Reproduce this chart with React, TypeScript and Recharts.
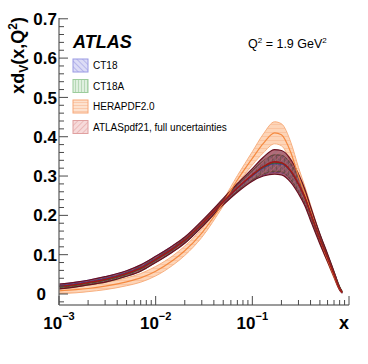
import React from "react"
import { Area, ComposedChart, Line, XAxis, YAxis } from "recharts"

const X = [0.001, 0.0015, 0.002, 0.003, 0.005, 0.007, 0.01, 0.015, 0.02, 0.03, 0.05, 0.07, 0.1, 0.13, 0.17, 0.2, 0.25, 0.3, 0.35, 0.4, 0.5, 0.6, 0.7, 0.8, 0.85]

const ATLAS_MID = [0.019, 0.024, 0.029, 0.037, 0.052, 0.066, 0.088, 0.115, 0.137, 0.178, 0.235, 0.27, 0.303, 0.324, 0.336, 0.334, 0.313, 0.28, 0.245, 0.205, 0.14, 0.092, 0.05, 0.014, 0.004]
const ATLAS_ERR = [0.006, 0.006, 0.006, 0.007, 0.007, 0.008, 0.008, 0.008, 0.008, 0.008, 0.008, 0.011, 0.016, 0.024, 0.031, 0.031, 0.029, 0.025, 0.021, 0.018, 0.013, 0.01, 0.007, 0.004, 0.002]

const HERA_MID = [0.008, 0.011, 0.014, 0.02, 0.031, 0.041, 0.058, 0.085, 0.11, 0.155, 0.232, 0.29, 0.345, 0.383, 0.41, 0.405, 0.36, 0.3, 0.255, 0.212, 0.14, 0.088, 0.046, 0.013, 0.004]
const HERA_ERR = [0.007, 0.008, 0.008, 0.009, 0.01, 0.011, 0.012, 0.012, 0.012, 0.011, 0.008, 0.011, 0.017, 0.024, 0.028, 0.028, 0.026, 0.022, 0.018, 0.015, 0.011, 0.008, 0.006, 0.004, 0.002]

const CT18_MID = [0.021, 0.026, 0.031, 0.039, 0.054, 0.068, 0.09, 0.117, 0.138, 0.178, 0.233, 0.268, 0.3, 0.32, 0.331, 0.33, 0.31, 0.278, 0.244, 0.205, 0.141, 0.093, 0.051, 0.015, 0.004]
const CT18_ERR = [0.004, 0.004, 0.004, 0.005, 0.005, 0.006, 0.006, 0.006, 0.006, 0.006, 0.006, 0.008, 0.012, 0.018, 0.022, 0.022, 0.02, 0.018, 0.015, 0.013, 0.01, 0.007, 0.005, 0.003, 0.002]

const CT18A_MID = [0.017, 0.022, 0.027, 0.035, 0.05, 0.064, 0.086, 0.113, 0.135, 0.176, 0.234, 0.27, 0.302, 0.322, 0.333, 0.332, 0.311, 0.279, 0.246, 0.206, 0.142, 0.094, 0.052, 0.016, 0.005]
const CT18A_ERR = [0.004, 0.004, 0.004, 0.005, 0.005, 0.006, 0.006, 0.006, 0.006, 0.006, 0.006, 0.008, 0.012, 0.017, 0.021, 0.021, 0.02, 0.018, 0.015, 0.013, 0.01, 0.007, 0.005, 0.003, 0.002]

const X_TICKS = [
  0.001, 0.002, 0.003, 0.004, 0.005, 0.006, 0.007, 0.008, 0.009,
  0.01, 0.02, 0.03, 0.04, 0.05, 0.06, 0.07, 0.08, 0.09,
  0.1, 0.2, 0.3, 0.4, 0.5, 0.6, 0.7, 0.8, 0.9, 1,
]
const X_MAJOR = [0.001, 0.01, 0.1]
const X_EXP = ["−3", "−2", "−1"]

const Y_TICKS = [
  -0.02, 0, 0.02, 0.04, 0.06, 0.08, 0.1, 0.12, 0.14, 0.16, 0.18, 0.2, 0.22, 0.24, 0.26, 0.28,
  0.3, 0.32, 0.34, 0.36, 0.38, 0.4, 0.42, 0.44, 0.46, 0.48, 0.5, 0.52, 0.54, 0.56, 0.58,
  0.6, 0.62, 0.64, 0.66, 0.68, 0.7,
]
const Y_MAJOR = [0, 0.1, 0.2, 0.3, 0.4, 0.5, 0.6, 0.7]
const Y_LABELS = ["0", "0.1", "0.2", "0.3", "0.4", "0.5", "0.6", "0.7"]

const LEGEND = [
  { name: "CT18", fill: "url(#ct18Swatch)", stroke: "#9a9ae4" },
  { name: "CT18A", fill: "url(#ct18aSwatch)", stroke: "#9ccc9c" },
  { name: "HERAPDF2.0", fill: "url(#heraSwatch)", stroke: "#f7a878" },
  { name: "ATLASpdf21, full uncertainties", fill: "url(#atlasSwatch)", stroke: "#e0a0a0" },
]

const rows = X.map((x, i) => ({
  x,
  atlas: [ATLAS_MID[i] - ATLAS_ERR[i], ATLAS_MID[i] + ATLAS_ERR[i]],
  atlasMid: ATLAS_MID[i],
  hera: [HERA_MID[i] - HERA_ERR[i], HERA_MID[i] + HERA_ERR[i]],
  heraMid: HERA_MID[i],
  ct18: [CT18_MID[i] - CT18_ERR[i], CT18_MID[i] + CT18_ERR[i]],
  ct18Mid: CT18_MID[i],
  ct18a: [CT18A_MID[i] - CT18A_ERR[i], CT18A_MID[i] + CT18A_ERR[i]],
  ct18aMid: CT18A_MID[i],
}))

const FONT = "Liberation Sans, Arial, Helvetica, sans-serif"
const TICK = "#4a4a4a"
const FRAME = "#7a7a7a"

const isMajor = (list: number[], v: number) => list.some((m) => Math.abs(m - v) < 1e-9)

function XBottomTick(p: any) {
  const v = p.payload.value
  const k = X_MAJOR.findIndex((m) => Math.abs(m - v) < 1e-12)
  const major = k >= 0 || v === 1
  return (
    <g>
      <line x1={p.x} x2={p.x} y1={p.y} y2={p.y - (major ? 9 : 5)} stroke={TICK} />
      {k >= 0 && (
        <text x={p.x} y={p.y + 24} textAnchor="middle" fontFamily={FONT} fontWeight="bold" fontSize={17} fill="#000">
          <tspan>10</tspan>
          <tspan dy={-9} fontSize={11}>{X_EXP[k]}</tspan>
        </text>
      )}
    </g>
  )
}

function XTopTick(p: any) {
  const v = p.payload.value
  const major = isMajor(X_MAJOR, v) || v === 1
  return <line x1={p.x} x2={p.x} y1={p.y} y2={p.y + (major ? 9 : 5)} stroke={TICK} />
}

function YLeftTick(p: any) {
  const v = p.payload.value
  const k = Y_MAJOR.findIndex((m) => Math.abs(m - v) < 1e-9)
  return (
    <g>
      <line x1={p.x} x2={p.x + (k >= 0 ? 9 : 5)} y1={p.y} y2={p.y} stroke={TICK} />
      {k >= 0 && (
        <text
          x={p.x - (k === 0 ? 13 : 2)}
          y={p.y}
          dy="0.36em"
          textAnchor="end"
          fontFamily={FONT}
          fontWeight="bold"
          fontSize={17}
          fill="#000"
        >
          {Y_LABELS[k]}
        </text>
      )}
    </g>
  )
}

function YRightTick(p: any) {
  const v = p.payload.value
  const major = isMajor(Y_MAJOR, v)
  return <line x1={p.x} x2={p.x - (major ? 9 : 5)} y1={p.y} y2={p.y} stroke={TICK} />
}

export default function App() {
  return (
    <div style={{ position: "absolute", left: 0, top: 0, width: 368, height: 364, background: "#fff" }}>
      <ComposedChart width={368} height={364} data={rows} margin={{ top: 18, right: 19, bottom: 0, left: 0 }}>
        <defs>
          <pattern id="ct18Hatch" width={4} height={4} patternUnits="userSpaceOnUse" patternTransform="rotate(-45)">
            <rect width={4} height={4} fill="rgba(140,140,230,0.35)" />
            <line x1={0} y1={0} x2={0} y2={4} stroke="#5a5ad8" strokeWidth={1} />
          </pattern>
          <pattern id="ct18aHatch" width={4} height={4} patternUnits="userSpaceOnUse">
            <rect width={4} height={4} fill="rgba(140,200,140,0.35)" />
            <line x1={0} y1={0} x2={0} y2={4} stroke="#4a9a4a" strokeWidth={1} />
          </pattern>
          <pattern id="heraHatch" width={4} height={4} patternUnits="userSpaceOnUse">
            <rect width={4} height={4} fill="#fdd5b8" />
            <line x1={0} y1={0} x2={4} y2={0} stroke="#f8b48a" strokeWidth={1} />
          </pattern>
          <pattern id="atlasHatch" width={4} height={4} patternUnits="userSpaceOnUse" patternTransform="rotate(45)">
            <rect width={4} height={4} fill="rgba(115,22,42,0.62)" />
            <line x1={0} y1={0} x2={0} y2={4} stroke="rgba(205,100,115,0.9)" strokeWidth={1.2} />
          </pattern>
          <pattern id="ct18Swatch" width={4} height={4} patternUnits="userSpaceOnUse" patternTransform="rotate(-45)">
            <rect width={4} height={4} fill="#dcdcf6" />
            <line x1={0} y1={0} x2={0} y2={4} stroke="#9090e0" strokeWidth={1} />
          </pattern>
          <pattern id="ct18aSwatch" width={3} height={4} patternUnits="userSpaceOnUse">
            <rect width={3} height={4} fill="#dff0df" />
            <line x1={0} y1={0} x2={0} y2={4} stroke="#90c090" strokeWidth={1} />
          </pattern>
          <pattern id="heraSwatch" width={4} height={3} patternUnits="userSpaceOnUse">
            <rect width={4} height={3} fill="#fde2cf" />
            <line x1={0} y1={0} x2={4} y2={0} stroke="#f8b088" strokeWidth={1} />
          </pattern>
          <pattern id="atlasSwatch" width={4} height={4} patternUnits="userSpaceOnUse" patternTransform="rotate(45)">
            <rect width={4} height={4} fill="#f6dada" />
            <line x1={0} y1={0} x2={0} y2={4} stroke="#e09898" strokeWidth={1} />
          </pattern>
        </defs>

        <XAxis
          dataKey="x"
          type="number"
          scale="log"
          domain={[0.001, 1]}
          allowDataOverflow
          ticks={X_TICKS}
          interval={0}
          tickSize={0}
          tickMargin={0}
          tickLine={false}
          tick={XBottomTick}
          height={59}
          axisLine={{ stroke: FRAME, strokeWidth: 1.5 }}
        />
        <XAxis
          xAxisId="top"
          dataKey="x"
          type="number"
          scale="log"
          domain={[0.001, 1]}
          allowDataOverflow
          orientation="top"
          ticks={X_TICKS}
          interval={0}
          tickSize={0}
          tickMargin={0}
          tickLine={false}
          tick={XTopTick}
          height={0}
          axisLine={{ stroke: FRAME, strokeWidth: 1.5 }}
        />
        <YAxis
          type="number"
          domain={[-0.028, 0.702]}
          allowDataOverflow
          ticks={Y_TICKS}
          interval={0}
          tickSize={0}
          tickMargin={0}
          tickLine={false}
          tick={YLeftTick}
          width={59}
          axisLine={{ stroke: FRAME, strokeWidth: 1.5 }}
        />
        <YAxis
          yAxisId="right"
          orientation="right"
          type="number"
          domain={[-0.028, 0.702]}
          allowDataOverflow
          ticks={Y_TICKS}
          interval={0}
          tickSize={0}
          tickMargin={0}
          tickLine={false}
          tick={YRightTick}
          width={0}
          axisLine={{ stroke: FRAME, strokeWidth: 1.5 }}
        />

        <Area type="monotone" dataKey="hera" stroke="#f8b080" strokeWidth={1} fill="url(#heraHatch)" fillOpacity={1} isAnimationActive={false} dot={false} activeDot={false} />
        <Area type="monotone" dataKey="ct18" stroke="#6a6ad8" strokeWidth={1} fill="url(#ct18Hatch)" fillOpacity={1} isAnimationActive={false} dot={false} activeDot={false} />
        <Area type="monotone" dataKey="ct18a" stroke="#4a9a4a" strokeWidth={1} fill="url(#ct18aHatch)" fillOpacity={1} isAnimationActive={false} dot={false} activeDot={false} />
        <Area type="monotone" dataKey="atlas" stroke="#6a1020" strokeWidth={1.2} fill="url(#atlasHatch)" fillOpacity={1} isAnimationActive={false} dot={false} activeDot={false} />

        <Line type="monotone" dataKey="heraMid" stroke="#f58a40" strokeWidth={1.2} dot={false} activeDot={false} isAnimationActive={false} />
        <Line type="monotone" dataKey="ct18Mid" stroke="#3a3aa0" strokeWidth={1} dot={false} activeDot={false} isAnimationActive={false} />
        <Line type="monotone" dataKey="ct18aMid" stroke="#2a6a2a" strokeWidth={1} dot={false} activeDot={false} isAnimationActive={false} />
        <Line type="monotone" dataKey="atlasMid" stroke="#a01818" strokeWidth={1.6} dot={false} activeDot={false} isAnimationActive={false} />

        <text x={73} y={48} fontFamily={FONT} fontWeight="bold" fontStyle="italic" fontSize={18} fill="#000">
          ATLAS
        </text>
        <text x={248} y={48} fontFamily={FONT} fontSize={12.5} fill="#000">
          <tspan>Q</tspan>
          <tspan dy={-5} fontSize={8}>2</tspan>
          <tspan dy={5}> = 1.9 GeV</tspan>
          <tspan dy={-5} fontSize={8}>2</tspan>
        </text>
        {LEGEND.map((l, i) => (
          <g key={l.name}>
            <rect x={73} y={59 + i * 20.5} width={15} height={13} fill={l.fill} stroke={l.stroke} strokeWidth={1} />
            <text x={93} y={65.5 + i * 20.5} dy="0.35em" fontFamily={FONT} fontSize={10} fill="#000">
              {l.name}
            </text>
          </g>
        ))}
        <text
          transform="translate(24,17) rotate(-90)"
          textAnchor="end"
          fontFamily={FONT}
          fontWeight="bold"
          fontSize={18}
          fill="#000"
        >
          <tspan>xd</tspan>
          <tspan dy={4} fontSize={12}>V</tspan>
          <tspan dy={-4}>(x,Q</tspan>
          <tspan dy={-7} fontSize={12}>2</tspan>
          <tspan dy={7}>)</tspan>
        </text>
        <text x={349} y={329} textAnchor="end" fontFamily={FONT} fontWeight="bold" fontSize={18} fill="#000">
          x
        </text>
      </ComposedChart>
    </div>
  )
}
